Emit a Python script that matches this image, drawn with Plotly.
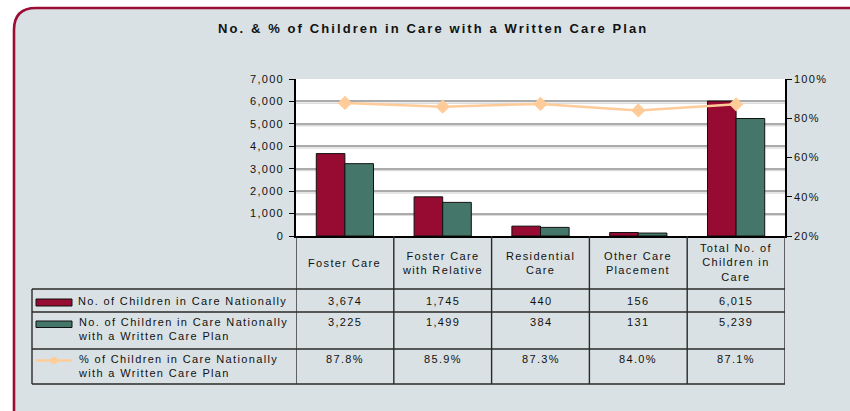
import plotly.graph_objects as go

categories = ["Foster Care", "Foster Care with Relative", "Residential Care",
              "Other Care Placement", "Total No. of Children in Care"]
header_labels = [["Foster Care"], ["Foster Care", "with Relative"], ["Residential", "Care"],
                 ["Other Care", "Placement"], ["Total No. of", "Children in", "Care"]]
children_in_care = [3674, 1745, 440, 156, 6015]
with_care_plan = [3225, 1499, 384, 131, 5239]
pct_with_plan = [87.8, 85.9, 87.3, 84.0, 87.1]
row_counts_text = ["3,674", "1,745", "440", "156", "6,015"]
row_plan_text = ["3,225", "1,499", "384", "131", "5,239"]
row_pct_text = ["87.8%", "85.9%", "87.3%", "84.0%", "87.1%"]
series_names = [["No. of Children in Care Nationally"],
                ["No. of Children in Care Nationally", "with a Written Care Plan"],
                ["% of Children in Care Nationally", "with a Written Care Plan"]]
y_tickvals = [0, 1000, 2000, 3000, 4000, 5000, 6000, 7000]
y_ticktext = ["0", "1,000", "2,000", "3,000", "4,000", "5,000", "6,000", "7,000"]
y2_tickvals = [20, 40, 60, 80, 100]
y2_ticktext = ["20%", "40%", "60%", "80%", "100%"]
title_text = "No. & % of Children in Care with a Written Care Plan"

RED = "#970a31"
GREEN = "#44776a"
ORANGE = "#ffcc99"
BG = "#d9e1e4"
FRAME = "#9b0d35"
FONT = "Liberation Sans, Arial, sans-serif"
TXT = "#111111"

W, H = 850, 411
L, R, T, B = 296, 785, 79, 236


def xp(px):
    return (px - L) / (R - L)


def yp(py):
    return (B - py) / (B - T)


def sp(s, ls=1.35):
    return f'<span style="letter-spacing:{ls}px">{s}</span>'


def lines(parts, ls=1.35):
    return "<br>".join(sp(p, ls) for p in parts)


fig = go.Figure()
fig.add_trace(go.Bar(x=categories, y=children_in_care, marker=dict(color=RED, line=dict(color="#111", width=1)),
                     name=series_names[0][0]))
fig.add_trace(go.Bar(x=categories, y=with_care_plan, marker=dict(color=GREEN, line=dict(color="#111", width=1)),
                     name=" ".join(series_names[1])))
fig.add_trace(go.Scatter(x=categories, y=pct_with_plan, yaxis="y2", mode="lines+markers",
                         line=dict(color=ORANGE, width=2.5),
                         marker=dict(symbol="diamond", size=11, color=ORANGE),
                         name=" ".join(series_names[2])))

shapes = []
# frame
x0, x1, y0, y1 = 14, 880, 8, 440
r = 22
path = (f"M {xp(x0)},{yp(y0 + r)} Q {xp(x0)},{yp(y0)} {xp(x0 + r)},{yp(y0)} "
        f"L {xp(x1)},{yp(y0)} L {xp(x1)},{yp(y1)} L {xp(x0 + r)},{yp(y1)} "
        f"Q {xp(x0)},{yp(y1)} {xp(x0)},{yp(y1 - r)} Z")
shapes.append(dict(type="path", xref="paper", yref="paper", path=path, fillcolor=BG,
                   line=dict(color=FRAME, width=2.6), layer="below"))
# white plot area
shapes.append(dict(type="rect", xref="paper", yref="paper", x0=0, x1=1, y0=0, y1=1,
                   fillcolor="white", line=dict(width=0), layer="below"))
# light shadow under gridlines
for v in y_tickvals[1:-1]:
    shapes.append(dict(type="line", xref="paper", yref="y", x0=0, x1=1, y0=v - 80, y1=v - 80,
                       line=dict(color="#dcdcdc", width=1.5), layer="below"))

LC = "#2a2a2a"
LW = 1.4
row_y = [289, 312, 349, 384]
for ry in row_y:
    shapes.append(dict(type="line", xref="paper", yref="paper", x0=xp(32), x1=1, y0=yp(ry), y1=yp(ry),
                       line=dict(color=LC, width=LW)))
shapes.append(dict(type="line", xref="paper", yref="paper", x0=xp(32), x1=xp(32), y0=yp(289), y1=yp(384),
                   line=dict(color=LC, width=LW)))
for i in range(len(categories) + 1):
    shapes.append(dict(type="line", xref="x", yref="paper", x0=i - 0.5, x1=i - 0.5, y0=yp(236), y1=yp(384),
                       line=dict(color=LC, width=LW)))
# legend keys
shapes.append(dict(type="rect", xref="paper", yref="paper", x0=xp(36), x1=xp(72), y0=yp(306), y1=yp(299),
                   fillcolor=RED, line=dict(color="#111", width=1)))
shapes.append(dict(type="rect", xref="paper", yref="paper", x0=xp(36), x1=xp(72), y0=yp(327.5), y1=yp(321),
                   fillcolor=GREEN, line=dict(color="#111", width=1)))
shapes.append(dict(type="line", xref="paper", yref="paper", x0=xp(36), x1=xp(72), y0=yp(360.5), y1=yp(360.5),
                   line=dict(color=ORANGE, width=2.5)))
shapes.append(dict(type="circle", xref="paper", yref="paper", x0=xp(50.5), x1=xp(57.5), y0=yp(364), y1=yp(357),
                   fillcolor=ORANGE, line=dict(color=ORANGE, width=0)))

ann = []
ann.append(dict(text="<b>" + sp(title_text, 2.1) + "</b>", xref="paper", yref="paper", x=xp(433), y=yp(28),
                showarrow=False, xanchor="center", yanchor="middle",
                font=dict(family=FONT, size=13, color=TXT)))
tf = dict(family=FONT, size=11, color=TXT)
for i, c in enumerate(categories):
    ann.append(dict(text=lines(header_labels[i]), xref="x", yref="paper", x=i, y=yp(262.5),
                    showarrow=False, xanchor="center", yanchor="middle", font=tf))
    ann.append(dict(text=sp(row_counts_text[i]), xref="x", yref="paper", x=i, y=yp(293),
                    showarrow=False, xanchor="center", yanchor="top", font=tf))
    ann.append(dict(text=sp(row_plan_text[i]), xref="x", yref="paper", x=i, y=yp(314),
                    showarrow=False, xanchor="center", yanchor="top", font=tf))
    ann.append(dict(text=sp(row_pct_text[i]), xref="x", yref="paper", x=i, y=yp(351),
                    showarrow=False, xanchor="center", yanchor="top", font=tf))
legend_tops = [293, 314, 351]
for k, nm in enumerate(series_names):
    ann.append(dict(text=lines(nm), xref="paper", yref="paper", x=xp(76), y=yp(legend_tops[k]),
                    showarrow=False, xanchor="left", yanchor="top", align="left", font=tf))

fig.update_layout(
    width=W, height=H,
    margin=dict(l=L, r=W - R, t=T, b=H - B, pad=0),
    paper_bgcolor="white", plot_bgcolor="white",
    showlegend=False,
    barmode="group", bargap=0.415, bargroupgap=0,
    xaxis=dict(showticklabels=False, showline=True, linecolor="#000", linewidth=1.5, ticks="",
               showgrid=False, range=[-0.5, 4.5]),
    yaxis=dict(range=[0, 7000], tickvals=y_tickvals, ticktext=[sp(t, 1.3) for t in y_ticktext],
               showline=True, linecolor="#000", linewidth=1.5, ticks="outside", ticklen=5,
               tickcolor="#000", showgrid=True, gridcolor="#ababab", gridwidth=2, zeroline=False,
               ticklabelstandoff=3,
               tickfont=dict(family=FONT, size=11, color=TXT)),
    yaxis2=dict(range=[20, 100], tickvals=y2_tickvals, ticktext=[sp(t, 1.3) for t in y2_ticktext],
                overlaying="y", side="right", showline=True, linecolor="#000", linewidth=1.5,
                ticks="outside", ticklen=5, tickcolor="#000", showgrid=False, zeroline=False,
                tickfont=dict(family=FONT, size=11, color=TXT)),
    shapes=shapes, annotations=ann,
)
fig.write_html("out.html")
